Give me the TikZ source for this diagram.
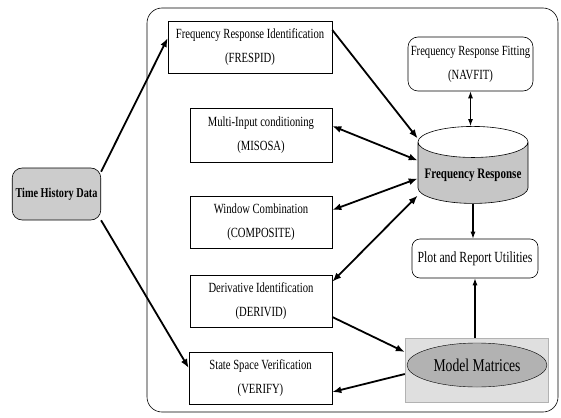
\documentclass[tikz,border=0pt]{standalone}
\usepackage{fontspec}
\setmainfont{Liberation Serif}[FakeStretch=0.76]
\usetikzlibrary{arrows.meta,shapes.geometric}

\begin{document}
\begin{tikzpicture}[x=1pt, y=-1pt, font=\fontsize{14}{24}\selectfont,
    tool/.style={draw, semithick, minimum width=142pt, minimum height=52pt, align=center, inner sep=2pt},
    util/.style={tool, rounded corners=10pt},
    link/.style={line width=1.8pt, -{Latex[length=9pt,width=7pt]}},
    both/.style={line width=1.8pt, {Latex[length=9pt,width=7pt]}-{Latex[length=9pt,width=7pt]}},
    thinlink/.style={line width=1.1pt, -{Latex[length=7pt,width=5pt]}},
    thinboth/.style={line width=1.1pt, {Latex[length=7pt,width=5pt]}-{Latex[length=7pt,width=5pt]}}]
    \useasboundingbox (0,0) rectangle (561,417);
    % outer frame
    \draw[semithick, rounded corners=15pt] (147,8) rectangle (558,412);
    % input data
    \node[draw, semithick, rounded corners=10pt, fill=gray!40, minimum width=87pt, minimum height=52pt,
          font=\fontsize{13.5}{16}\bfseries\selectfont] (thd) at (56.5,194) {Time History Data};
    % tool boxes on the left
    \node[tool, minimum width=164pt] (frespid) at (250,47) {Frequency Response Identification\\(FRESPID)};
    \node[tool, minimum height=54pt] (misosa) at (261,135) {Multi-Input conditioning\\(MISOSA)};
    \node[tool] (composite) at (261,222) {Window Combination\\(COMPOSITE)};
    \node[tool] (derivid) at (261,301) {Derivative Identification\\(DERIVID)};
    \node[tool, minimum width=143pt] (verify) at (260.5,378) {State Space Verification\\(VERIFY)};
    % right column
    \node[util, minimum width=125pt, minimum height=54pt] (navfit) at (470.5,64) {Frequency Response Fitting\\(NAVFIT)};
    \node[cylinder, shape border rotate=90, draw, semithick, aspect=0.3, minimum width=110pt, minimum height=77pt,
          cylinder uses custom fill, cylinder body fill=gray!45, cylinder end fill=white,
          font=\fontsize{14.5}{16}\bfseries\selectfont] (fr) at (473,175.5) {Frequency Response};
    \node[util, rounded corners=8pt, minimum width=126pt, minimum height=39pt,
          font=\fontsize{15.5}{18}\selectfont] (plot) at (475,258.5) {Plot and Report Utilities};
    % model matrices
    \node[draw=gray!60, fill=gray!25, minimum width=143pt, minimum height=64pt] (mmbox) at (476.5,370) {};
    \node[ellipse, draw, fill=gray!60, minimum width=140pt, minimum height=44pt, inner sep=0pt,
          font=\fontsize{18}{20}\selectfont] (mm) at (477,365) {Model Matrices};
    % connections
    \draw[link] ([yshift=-4pt]thd.north east) -- ([yshift=9pt]frespid.west);
    \draw[link] (thd.south east) -- ([yshift=10pt]verify.west);
    \draw[link] ([yshift=17pt]frespid.east) -- ([yshift=37pt]fr.west);
    \draw[both] ([yshift=9pt]misosa.east) -- ([yshift=15pt]fr.west);
    \draw[both] ([yshift=12pt]composite.east) -- ([yshift=-3pt]fr.west);
    \draw[both] ([yshift=-7pt]derivid.north east) -- ([yshift=-20pt]fr.west);
    \draw[thinboth] (navfit.south) -- (navfit.south |- fr.north);
    \draw[thinlink] (fr.south) -- (fr.south |- plot.north);
    \draw[thinlink] (mmbox.north -| plot.south) -- (plot.south);
    \draw[link] ([yshift=-16pt]derivid.east) -- ([yshift=18pt]mmbox.west);
    \draw[link] ([yshift=-4pt]mmbox.west) -- ([yshift=-14pt]verify.east);
\end{tikzpicture}
\end{document}
